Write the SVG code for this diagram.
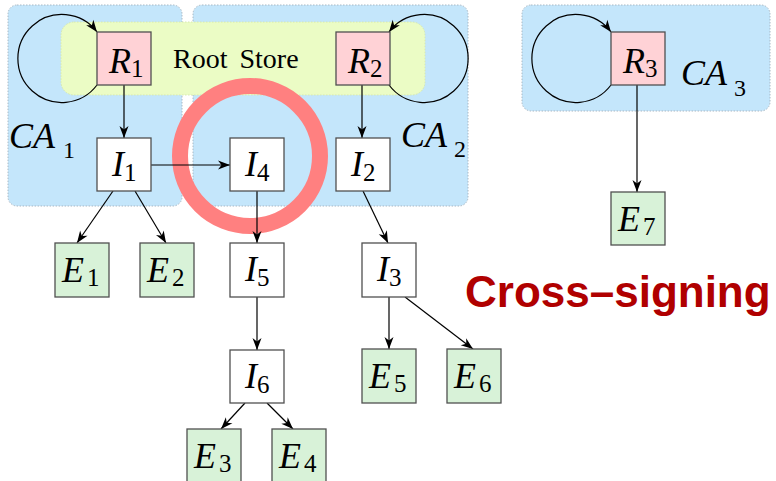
<svg xmlns="http://www.w3.org/2000/svg" width="776" height="481" viewBox="0 0 776 481">
<style>
.ca{fill:#c4e6fb;stroke:#a8b8c4;stroke-width:1;stroke-dasharray:1.5 1.5}
.rs{fill:#ebfcc5;stroke:#d6e8b0;stroke-width:1;stroke-dasharray:1.5 1.5}
.box{stroke:#505050;stroke-width:1.3}
.root{fill:#ffd2d6}
.int{fill:#ffffff}
.ee{fill:#d8f2d8}
.lbl{font-family:"Liberation Serif","Times New Roman",serif;font-style:italic;font-size:36px;fill:#000}
.sub{font-style:normal;font-size:25px}
.calbl{font-family:"Liberation Serif","Times New Roman",serif;font-style:italic;font-size:36px;fill:#000}
.casub{font-style:normal;font-size:24px}
.con{stroke:#000;stroke-width:1.2;fill:none;marker-end:url(#arr)}
</style>
<defs>
<marker id="arr" markerUnits="userSpaceOnUse" viewBox="-13 -6 14 12" markerWidth="14" markerHeight="12" refX="0" refY="0" orient="auto">
<path d="M0,0 L-12,-4.5 L-8.5,0 L-12,4.5 Z" fill="#000"/>
</marker>
</defs>
<rect width="776" height="481" fill="#fff"/>
<g id="regions">
<rect id="ca1" class="ca" x="8" y="5" width="174" height="201" rx="9"/>
<rect id="ca2" class="ca" x="193" y="5" width="275" height="201" rx="9"/>
<rect id="ca3" class="ca" x="522" y="5" width="248" height="106" rx="9"/>
<rect id="rootstore" class="rs" x="61" y="22" width="364" height="73" rx="13"/>
<circle id="highlight" cx="250" cy="156" r="70" fill="none" stroke="#ff8080" stroke-width="16"/>
</g>
<g id="labels">
<text x="173" y="68" font-family="Liberation Serif, Times New Roman, serif" font-size="28" word-spacing="5" fill="#000">Root Store</text>
<text class="calbl" x="9" y="148">CA<tspan class="casub" dx="8" dy="10">1</tspan></text>
<text class="calbl" x="401" y="147">CA<tspan class="casub" dx="7" dy="10">2</tspan></text>
<text class="calbl" x="681" y="85">CA<tspan class="casub" dx="7" dy="11">3</tspan></text>
<text x="465" y="307" font-family="Liberation Sans, Arial, sans-serif" font-weight="bold" font-size="44" fill="#b00000">Cross–signing</text>
</g>
<g id="connectors">
<path class="con" d="M97,85 A44,44 0 1 1 97,32"/>
<path class="con" d="M389,85 A44,44 0 1 0 389,32"/>
<path class="con" d="M611,85 A44,44 0 1 1 611,32"/>
<line class="con" x1="124" y1="85" x2="124" y2="138"/>
<line class="con" x1="151" y1="165" x2="230" y2="165"/>
<line class="con" x1="362" y1="85" x2="362" y2="138"/>
<line class="con" x1="113" y1="191" x2="77" y2="243"/>
<line class="con" x1="135" y1="191" x2="166" y2="243"/>
<line class="con" x1="257" y1="191" x2="257" y2="243"/>
<line class="con" x1="257" y1="297" x2="257" y2="350"/>
<line class="con" x1="245" y1="403" x2="221" y2="429"/>
<line class="con" x1="267" y1="403" x2="293" y2="429"/>
<line class="con" x1="363" y1="191" x2="388" y2="243"/>
<line class="con" x1="389" y1="297" x2="389" y2="349"/>
<line class="con" x1="405" y1="297" x2="473" y2="349"/>
<line class="con" x1="637" y1="85" x2="637" y2="192"/>
</g>
<g id="R1"><rect class="box root" x="97" y="32" width="54" height="53"/><text class="lbl" x="109" y="72.5">R<tspan class="sub" dy="4">1</tspan></text></g>
<g id="R2"><rect class="box root" x="336" y="32" width="54" height="53"/><text class="lbl" x="348" y="72.5">R<tspan class="sub" dy="4">2</tspan></text></g>
<g id="R3"><rect class="box root" x="611" y="32" width="54" height="53"/><text class="lbl" x="623" y="72.5">R<tspan class="sub" dy="4">3</tspan></text></g>
<g id="I1"><rect class="box int" x="97" y="138" width="54" height="53"/><text class="lbl" x="112" y="175.5">I<tspan class="sub" dy="5">1</tspan></text></g>
<g id="I4"><rect class="box int" x="230" y="138" width="54" height="53"/><text class="lbl" x="245" y="175.5">I<tspan class="sub" dy="5">4</tspan></text></g>
<g id="I2"><rect class="box int" x="336" y="138" width="54" height="53"/><text class="lbl" x="351" y="175.5">I<tspan class="sub" dy="5">2</tspan></text></g>
<g id="E1"><rect class="box ee" x="55" y="243" width="54" height="54"/><text class="lbl" x="62" y="281.5">E<tspan class="sub" dx="3" dy="4">1</tspan></text></g>
<g id="E2"><rect class="box ee" x="140" y="243" width="54" height="54"/><text class="lbl" x="147" y="281.5">E<tspan class="sub" dx="3" dy="4">2</tspan></text></g>
<g id="I5"><rect class="box int" x="230" y="243" width="54" height="54"/><text class="lbl" x="245" y="280.5">I<tspan class="sub" dy="5">5</tspan></text></g>
<g id="I3"><rect class="box int" x="362" y="243" width="54" height="54"/><text class="lbl" x="377" y="280.5">I<tspan class="sub" dy="5">3</tspan></text></g>
<g id="E7"><rect class="box ee" x="611" y="192" width="54" height="53"/><text class="lbl" x="618" y="230.5">E<tspan class="sub" dx="3" dy="4">7</tspan></text></g>
<g id="I6"><rect class="box int" x="230" y="350" width="54" height="53"/><text class="lbl" x="245" y="387.5">I<tspan class="sub" dy="5">6</tspan></text></g>
<g id="E5"><rect class="box ee" x="362" y="349" width="54" height="54"/><text class="lbl" x="369" y="387.5">E<tspan class="sub" dx="3" dy="4">5</tspan></text></g>
<g id="E6"><rect class="box ee" x="447" y="349" width="54" height="54"/><text class="lbl" x="454" y="387.5">E<tspan class="sub" dx="3" dy="4">6</tspan></text></g>
<g id="E3"><rect class="box ee" x="187" y="429" width="54" height="54"/><text class="lbl" x="194" y="467.5">E<tspan class="sub" dx="3" dy="4">3</tspan></text></g>
<g id="E4"><rect class="box ee" x="272" y="429" width="54" height="54"/><text class="lbl" x="279" y="467.5">E<tspan class="sub" dx="3" dy="4">4</tspan></text></g>
</svg>
